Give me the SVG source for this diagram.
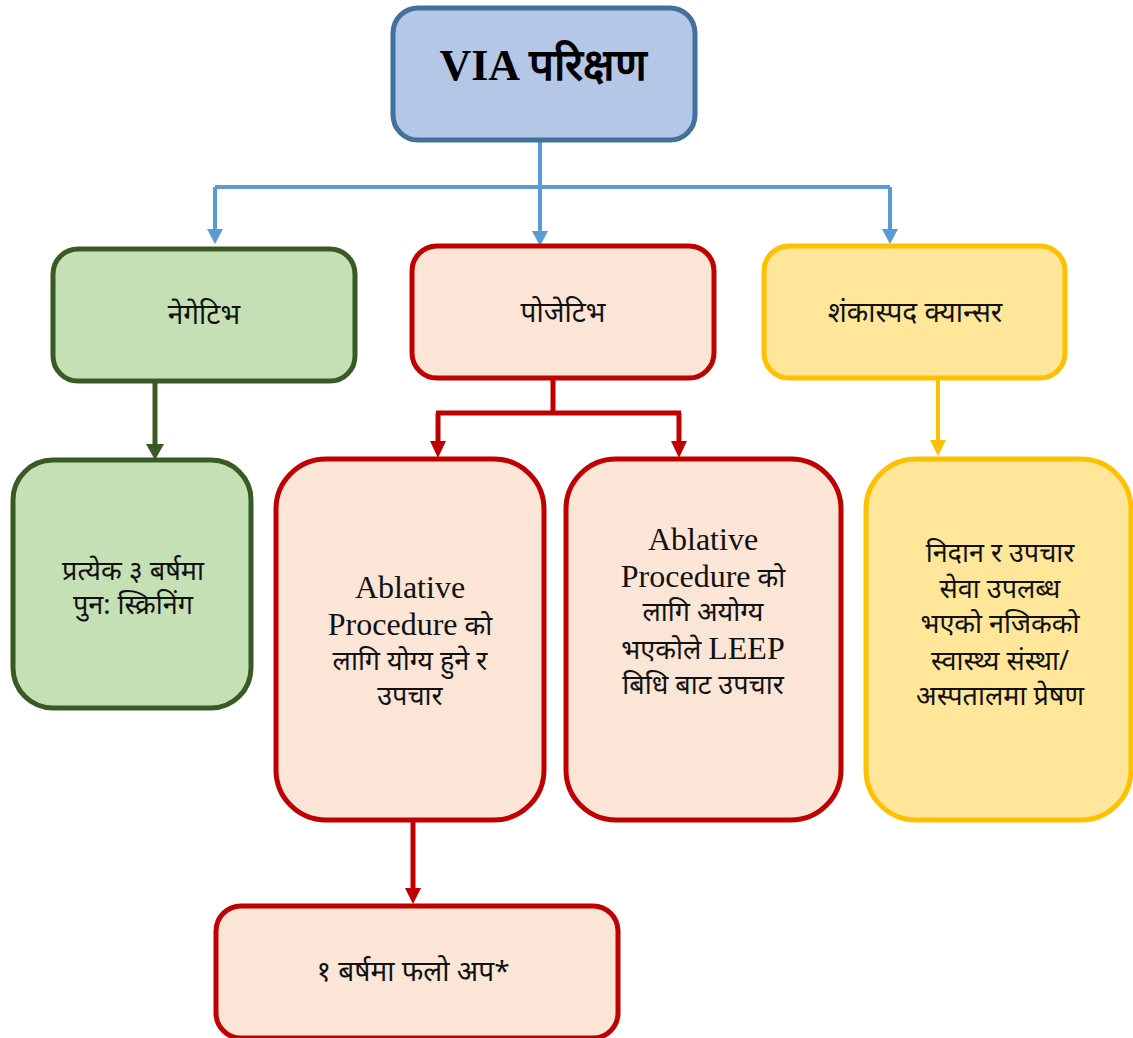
<svg xmlns="http://www.w3.org/2000/svg" width="1133" height="1038" viewBox="0 0 1133 1038">
<style>
.t{font-family:"Noto Sans","Noto Sans Devanagari","Liberation Serif",sans-serif;font-size:27px;fill:#111;text-anchor:middle}
.s{font-size:28px}
.lat{font-family:"Liberation Serif","Noto Serif",serif;font-size:32px}
.blue{fill:#B4C7E7;stroke:#41719C;stroke-width:5}
.green{fill:#C5E0B4;stroke:#3A5A25;stroke-width:5}
.red{fill:#FBE5D6;stroke:#C00000;stroke-width:5}
.yel{fill:#FFE699;stroke:#FFC000;stroke-width:5}
.cb{fill:none;stroke:#5B9BD5;stroke-width:4}
.cg{fill:none;stroke:#3A5A25;stroke-width:5}
.cr{fill:none;stroke:#C00000;stroke-width:5}
.cy{fill:none;stroke:#FFC000;stroke-width:4}
</style>
<g id="connectors">
<path class="cb" d="M540,140 V232 M215,187 H890 M215,187 V232 M890,187 V232"/>
<polygon fill="#5B9BD5" points="532,231 548,231 540,246"/>
<polygon fill="#5B9BD5" points="207,229 223,229 215,244"/>
<polygon fill="#5B9BD5" points="882,229 898,229 890,244"/>
<path class="cg" d="M155,381 V446"/>
<polygon fill="#3A5A25" points="146,444 164,444 155,460"/>
<path class="cr" d="M553,379 V413 M436,413 H681 M438,413 V443 M679,413 V443"/>
<polygon fill="#C00000" points="430,441 446,441 438,458"/>
<polygon fill="#C00000" points="671,441 687,441 679,458"/>
<path class="cy" d="M938,378 V442"/>
<polygon fill="#FFC000" points="930,440 946,440 938,456"/>
<path class="cr" d="M413,820 V890"/>
<polygon fill="#C00000" points="405,888 421,888 413,904"/>
</g>
<g id="via">
<rect class="blue" x="393" y="8" width="302" height="132" rx="25"/>
<text x="543" y="80" text-anchor="middle" style="font-family:'Liberation Serif','Noto Serif',serif;font-weight:bold;font-size:44px;fill:#000">VIA परिक्षण</text>
</g>
<g id="negative">
<rect class="green" x="53" y="249" width="302" height="132" rx="25"/>
<text class="t s" x="204" y="324">नेगेटिभ</text>
</g>
<g id="positive">
<rect class="red" x="412" y="246" width="302" height="132" rx="25"/>
<text class="t s" x="563" y="322">पोजेटिभ</text>
</g>
<g id="suspect">
<rect class="yel" x="764" y="246" width="301" height="132" rx="25"/>
<text class="t s" x="915" y="322">शंकास्पद क्यान्सर</text>
</g>
<g id="rescreen">
<rect class="green" x="13" y="460" width="238" height="248" rx="40"/>
<text class="t" x="133" y="580">प्रत्येक ३ बर्षमा</text>
<text class="t" x="133" y="614">पुन: स्क्रिनिंग</text>
</g>
<g id="ablative-eligible">
<rect class="red" x="276" y="459" width="268" height="361" rx="50"/>
<text class="t" x="410" y="598"><tspan class="lat">Ablative</tspan></text>
<text class="t" x="410" y="635"><tspan class="lat">Procedure</tspan> को</text>
<text class="t" x="410" y="670">लागि योग्य हुने र</text>
<text class="t" x="410" y="705">उपचार</text>
</g>
<g id="leep">
<rect class="red" x="566" y="459" width="275" height="361" rx="50"/>
<text class="t" x="703" y="550"><tspan class="lat">Ablative</tspan></text>
<text class="t" x="703" y="587"><tspan class="lat">Procedure</tspan> को</text>
<text class="t" x="703" y="621">लागि अयोग्य</text>
<text class="t" x="703" y="659">भएकोले <tspan class="lat">LEEP</tspan></text>
<text class="t" x="703" y="694">बिधि बाट उपचार</text>
</g>
<g id="referral">
<rect class="yel" x="866" y="459" width="265" height="361" rx="50"/>
<text class="t" x="1000" y="562">निदान र उपचार</text>
<text class="t" x="1000" y="598">सेवा उपलब्ध</text>
<text class="t" x="1000" y="633">भएको नजिकको</text>
<text class="t" x="1000" y="670">स्वास्थ्य संस्था/</text>
<text class="t" x="1000" y="705">अस्पतालमा प्रेषण</text>
</g>
<g id="followup">
<rect class="red" x="216" y="906" width="402" height="132" rx="25"/>
<text class="t s" x="413" y="981">१ बर्षमा फलो अप*</text>
</g>
</svg>
